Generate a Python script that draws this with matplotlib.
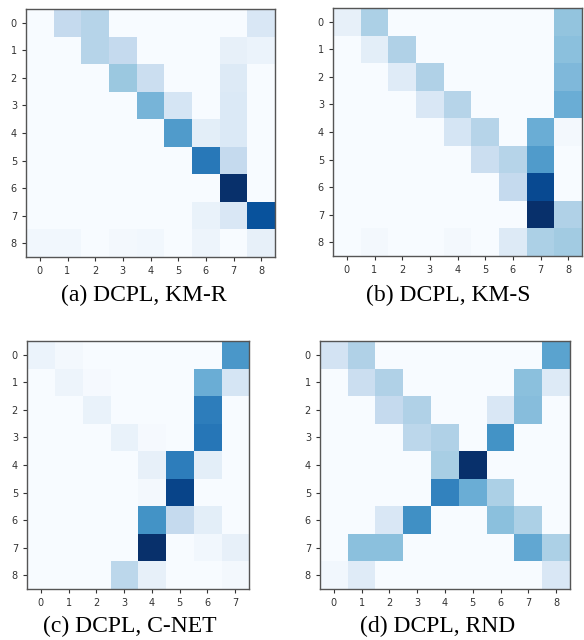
import numpy as np
import matplotlib
matplotlib.use('Agg')
import matplotlib.pyplot as plt

# normalised cell intensities (rows = true, cols = assigned)
km_r = [
    [0, .25, .30, 0, 0, 0, 0, 0, .15],
    [0, 0, .30, .25, 0, 0, 0, .08, .06],
    [0, 0, 0, .38, .22, 0, 0, .13, 0],
    [0, 0, 0, 0, .47, .17, 0, .14, 0],
    [0, 0, 0, 0, 0, .58, .10, .14, 0],
    [0, 0, 0, 0, 0, 0, .72, .25, 0],
    [0, 0, 0, 0, 0, 0, 0, 1.0, 0],
    [0, 0, 0, 0, 0, 0, .07, .15, .87],
    [.03, .03, 0, .02, .03, 0, .05, 0, .08],
]
km_s = [
    [.08, .33, 0, 0, 0, 0, 0, 0, .40],
    [0, .10, .32, 0, 0, 0, 0, 0, .42],
    [0, 0, .12, .32, 0, 0, 0, 0, .45],
    [0, 0, 0, .15, .30, 0, 0, 0, .50],
    [0, 0, 0, 0, .17, .30, 0, .50, .02],
    [0, 0, 0, 0, 0, .22, .30, .58, 0],
    [0, 0, 0, 0, 0, 0, .25, .90, 0],
    [0, 0, 0, 0, 0, 0, 0, 1.0, .32],
    [0, .02, 0, 0, .02, 0, .13, .33, .36],
]
c_net = [
    [.06, .02, 0, 0, 0, 0, 0, .60],
    [0, .05, .01, 0, 0, 0, .50, .17],
    [0, 0, .07, 0, 0, 0, .70, 0],
    [0, 0, 0, .07, .01, 0, .73, 0],
    [0, 0, 0, 0, .08, .70, .10, 0],
    [0, 0, 0, 0, .02, .92, 0, 0],
    [0, 0, 0, 0, .62, .25, .10, 0],
    [0, 0, 0, 0, 1.0, 0, .03, .08],
    [0, 0, 0, .28, .08, 0, 0, .02],
]
rnd = [
    [.18, .32, 0, 0, 0, 0, 0, 0, .55],
    [0, .22, .32, 0, 0, 0, 0, .42, .13],
    [0, 0, .25, .32, 0, 0, .15, .43, 0],
    [0, 0, 0, .28, .32, 0, .62, 0, 0],
    [0, 0, 0, 0, .34, 1.0, 0, 0, 0],
    [0, 0, 0, 0, .68, .50, .33, 0, 0],
    [0, 0, .15, .63, 0, 0, .42, .33, 0],
    [0, .42, .42, 0, 0, 0, 0, .53, .33],
    [.03, .12, 0, 0, 0, 0, 0, 0, .15],
]

panels = [km_r, km_s, c_net, rnd]
captions = ['(a) DCPL, KM-R', '(b) DCPL, KM-S', '(c) DCPL, C-NET', '(d) DCPL, RND']

W, H = 584, 640
fig = plt.figure(figsize=(W / 100, H / 100), dpi=100)

# axes boxes in pixels: left, top, right, bottom
boxes = [(26, 9, 275, 257), (333, 8, 582, 256), (27, 341, 249, 589), (320, 341, 570, 589)]
cap_pos = [(144, 295), (448, 295), (130, 626), (438, 626)]

for mat, (l, t, r, b), cap, (cx, cy) in zip(panels, boxes, captions, cap_pos):
    ax = fig.add_axes([l / W, 1 - b / H, (r - l) / W, (b - t) / H])
    m = np.array(mat)
    ax.imshow(m, cmap='Blues', vmin=0, vmax=1, interpolation='nearest', aspect='auto')
    ax.set_xticks(range(m.shape[1]))
    ax.set_yticks(range(m.shape[0]))
    ax.tick_params(labelsize=7, colors='#333333', length=3, width=0.8)
    for s in ax.spines.values():
        s.set_color('#555555')
        s.set_linewidth(1.0)
    fig.text(cx / W, 1 - cy / H, cap, ha='center', va='center',
             family='Liberation Serif', fontsize=17)

plt.savefig('out.png', dpi=100)
